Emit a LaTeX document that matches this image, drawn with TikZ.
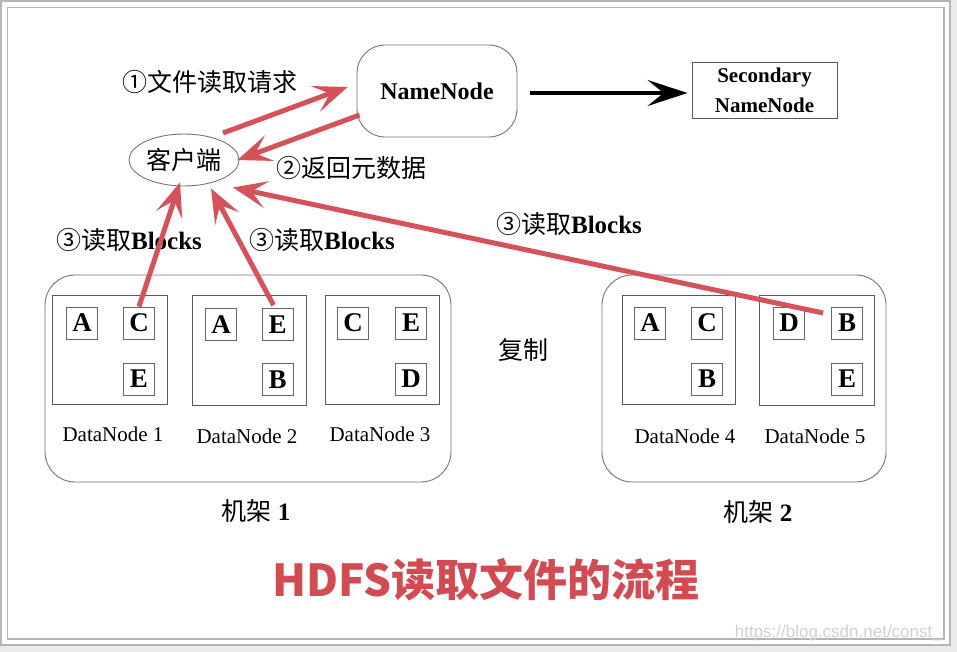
\documentclass[tikz,border=0pt]{standalone}
\usepackage{fontspec}
\setmainfont{Liberation Serif}
\newfontfamily\cjk{Noto Sans CJK SC}
\newfontfamily\wmfont{Liberation Sans}
\usetikzlibrary{shapes.geometric,arrows.meta,calc}
\definecolor{redarr}{HTML}{D4525A}
\definecolor{framegray}{HTML}{B5B5B5}
\definecolor{titlered}{HTML}{D24B53}
\begin{document}
\begin{tikzpicture}[x=1pt,y=-1pt,
  blk/.style={draw=black!60, line width=0.8, minimum width=31, minimum height=32, inner sep=0,
    font=\fontsize{27}{27}\selectfont\bfseries},
  dnbox/.style={draw=black!65, line width=0.9, inner sep=0},
  rack/.style={draw=black!55, line width=0.9, rounded corners=30, inner sep=0},
  dnlbl/.style={font=\fontsize{21}{21}\selectfont, inner sep=0},
  cjklbl/.style={font=\fontsize{25}{25}\selectfont, inner sep=0},
  redarrow/.style={draw=redarr, line width=5, -{Stealth[length=34,width=27,inset=15]}},
  blackarrow/.style={draw=black, line width=4, -{Stealth[length=40,width=26,inset=16]}}
]
\useasboundingbox (0,0) rectangle (957,652);
% frame
\fill[black!8] (0,0) rectangle (957,652);
\draw[framegray, line width=2, fill=white] (1,1) rectangle (950,645);
\draw[framegray, line width=1.5] (7.5,7.5) rectangle (944,639);

% top nodes
\node[draw=black!55, line width=0.9, rounded corners=28, minimum width=160, minimum height=92,
  font=\fontsize{24}{24}\selectfont\bfseries] (nn) at (437,91) {NameNode};
\node[draw=black!65, line width=0.9, minimum width=145, minimum height=56, inner sep=0, align=center,
  font=\fontsize{21}{30}\selectfont\bfseries] (sec) at (764.5,90) {Secondary\\NameNode};
\node[ellipse, draw=black!55, line width=0.9, minimum width=110, minimum height=52, inner sep=0,
  font=\cjk\fontsize{25}{25}\selectfont] (cl) at (184,160) {客户端};

% labels
\node[cjklbl] (l1) at (210,82) {\cjk ①文件读取请求};
\node[cjklbl] (l2) at (351,168) {\cjk ②返回元数据};
\node[cjklbl] (l3a) at (129,240) {{\cjk ③读取}\textbf{Blocks}};
\node[cjklbl] (l3b) at (322,240) {{\cjk ③读取}\textbf{Blocks}};
\node[cjklbl] (l3c) at (569,224) {{\cjk ③读取}\textbf{Blocks}};

% racks
\node[rack, minimum width=406, minimum height=207] (rack1) at (248,378.5) {};
\node[rack, minimum width=284, minimum height=207] (rack2) at (744,378.5) {};

% datanodes
\node[dnbox, minimum width=115, minimum height=109] (dn1) at (109.5,349.5) {};
\node[dnbox, minimum width=114, minimum height=110] (dn2) at (249,350) {};
\node[dnbox, minimum width=114, minimum height=109] (dn3) at (382,349.5) {};
\node[dnbox, minimum width=113, minimum height=109] (dn4) at (678.5,349.5) {};
\node[dnbox, minimum width=115, minimum height=110] (dn5) at (816.5,350) {};

% blocks
\node[blk] (a1) at (82,323) {A};
\node[blk] (c1) at (139,323) {C};
\node[blk] (e1) at (139,379) {E};
\node[blk] (a2) at (221,324.5) {A};
\node[blk] (e2) at (277.5,324.5) {E};
\node[blk] (b2) at (277.5,379.5) {B};
\node[blk] (c3) at (353,323) {C};
\node[blk] (e3) at (411,323) {E};
\node[blk] (d3) at (411,379) {D};
\node[blk] (a4) at (650,323) {A};
\node[blk] (c4) at (707,323) {C};
\node[blk] (b4) at (707,379) {B};
\node[blk] (d5) at (789,323) {D};
\node[blk] (b5) at (847,323) {B};
\node[blk] (e5) at (847,379) {E};

% datanode labels
\node[dnlbl] (t1) at (113,434) {DataNode 1};
\node[dnlbl] (t2) at (247,436) {DataNode 2};
\node[dnlbl] (t3) at (380,434) {DataNode 3};
\node[dnlbl] (t4) at (685,436) {DataNode 4};
\node[dnlbl] (t5) at (815,436) {DataNode 5};

\node[cjklbl] (r1) at (256,511) {{\cjk 机架} \textbf{1}};
\node[cjklbl] (r2) at (758,512) {{\cjk 机架} \textbf{2}};
\node[cjklbl] (fz) at (523,350) {\cjk 复制};

% title and watermark
\node[font=\cjk\fontsize{44}{44}\selectfont\bfseries, text=titlered, inner sep=0] (title) at (486,580) {HDFS读取文件的流程};
\node[font=\wmfont\fontsize{17}{17}\selectfont, text=black!18, anchor=east, inner sep=0] (wm) at (942,633) {https://blog.csdn.net/const\_};

% arrows
\draw[blackarrow] ([shift={(13,2)}]nn.east) -- ([shift={(-4,3)}]sec.west);
\draw[redarrow] ([shift={(39,-27)}]cl.center) -- ([shift={(-9,-4)}]nn.west);
\draw[redarrow] ([shift={(3,24)}]nn.west) -- ([shift={(-2,0)}]cl.east);
\draw[redarrow] (c1.north) -- ([shift={(-4,-4)}]cl.south);
\draw[redarrow] ([shift={(-4,-3)}]e2.north) -- ([shift={(27,2)}]cl.south);
\draw[redarrow] ([shift={(-8,-10)}]b5.west) -- ([shift={(49,1)}]cl.south);
\end{tikzpicture}
\end{document}
